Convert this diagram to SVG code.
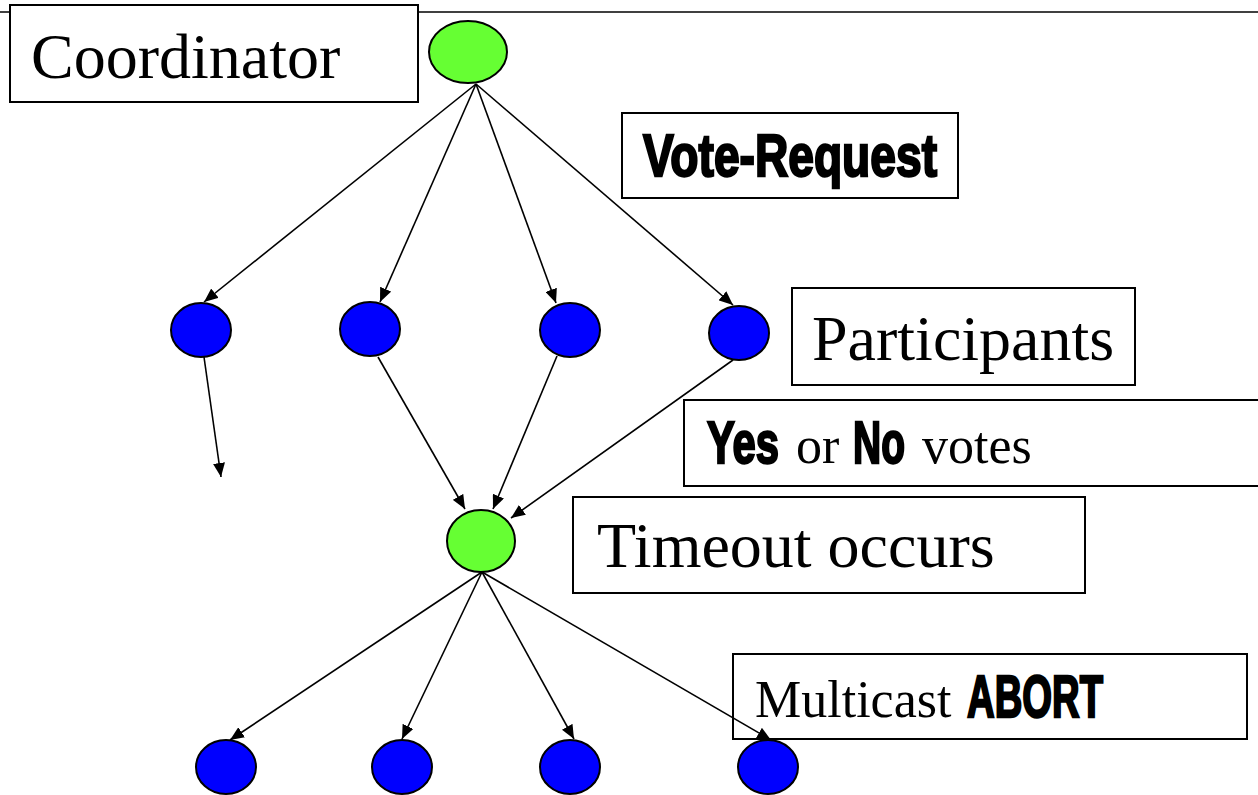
<svg xmlns="http://www.w3.org/2000/svg" width="1258" height="795" viewBox="0 0 1258 795">
  <style>
    .box { fill: #ffffff; stroke: #000000; stroke-width: 2; }
    .green { fill: #66ff33; stroke: #000000; stroke-width: 2; }
    .blue { fill: #0000ff; stroke: #000000; stroke-width: 2; }
    .edge { stroke: #000000; stroke-width: 1.6; fill: none; marker-end: url(#arrow); }
    .serif { font-family: "Liberation Serif", "Times New Roman", serif; fill: #000000; }
    /* heavy condensed face: narrow bold, stretched upward and thickened */
    .heavy { font-family: "Liberation Sans Narrow", "Liberation Sans", Arial, sans-serif; font-weight: bold; font-size: 50px; fill: #000000; stroke: #000000; stroke-width: 2; stroke-linejoin: miter; }
  </style>
  <defs>
    <marker id="arrow" viewBox="0 0 14 12" refX="14" refY="6" markerWidth="14" markerHeight="12" markerUnits="userSpaceOnUse" orient="auto">
      <path d="M0,0 L14,6 L0,12 Z" fill="#000000"/>
    </marker>
  </defs>
  <rect width="1258" height="795" fill="#ffffff"/>

  <!-- header rule -->
  <line x1="0" y1="12" x2="1258" y2="12" stroke="#000000" stroke-width="1.5"/>

  <!-- labels -->
  <g id="coordinator-label">
    <rect class="box" x="10" y="5" width="408" height="97"/>
    <text class="serif" x="31" y="78" font-size="64">Coordinator</text>
  </g>
  <g id="vote-request">
    <rect class="box" x="622" y="113" width="336" height="85"/>
    <text class="heavy" transform="translate(643,176) scale(1,1.2)" x="0" y="0" textLength="294" lengthAdjust="spacingAndGlyphs">Vote-Request</text>
  </g>
  <g id="participants-label">
    <rect class="box" x="792" y="288" width="343" height="97"/>
    <text class="serif" x="812" y="360" font-size="64">Participants</text>
  </g>
  <g id="votes-label">
    <rect class="box" x="684" y="400" width="590" height="86"/>
    <text class="heavy" transform="translate(707,463) scale(1,1.2)" x="0" y="0" textLength="72" lengthAdjust="spacingAndGlyphs">Yes</text>
    <text class="serif" x="796" y="463" font-size="52">or</text>
    <text class="heavy" transform="translate(853,463) scale(1,1.2)" x="0" y="0" textLength="52" lengthAdjust="spacingAndGlyphs">No</text>
    <text class="serif" x="922" y="463" font-size="52">votes</text>
  </g>
  <g id="timeout-label">
    <rect class="box" x="573" y="497" width="512" height="96"/>
    <text class="serif" x="597" y="567" font-size="64">Timeout occurs</text>
  </g>
  <g id="abort-label">
    <rect class="box" x="733" y="654" width="514" height="85"/>
    <text class="serif" x="755" y="717" font-size="52">Multicast</text>
    <text class="heavy" transform="translate(967,717) scale(1,1.2)" x="0" y="0" textLength="136" lengthAdjust="spacingAndGlyphs">ABORT</text>
  </g>

  <!-- connectors -->
  <g id="connectors">
    <line class="edge" x1="476" y1="84" x2="204" y2="302"/>
    <line class="edge" x1="476" y1="84" x2="380" y2="302"/>
    <line class="edge" x1="476" y1="84" x2="556" y2="303"/>
    <line class="edge" x1="476" y1="84" x2="733" y2="305"/>
    <line class="edge" x1="204" y1="357" x2="221" y2="477"/>
    <line class="edge" x1="378" y1="357" x2="465" y2="509"/>
    <line class="edge" x1="557" y1="356" x2="493" y2="509"/>
    <line class="edge" x1="733" y1="360" x2="511" y2="518"/>
    <line class="edge" x1="482" y1="572" x2="230" y2="740"/>
    <line class="edge" x1="482" y1="572" x2="402" y2="739"/>
    <line class="edge" x1="482" y1="572" x2="574" y2="739"/>
    <line class="edge" x1="482" y1="572" x2="771" y2="740"/>
  </g>

  <!-- coordinator -->
  <g id="coordinator">
    <ellipse class="green" cx="468" cy="52" rx="39" ry="31"/>
  </g>

  <!-- participants -->
  <g id="participant-1"><ellipse class="blue" cx="201" cy="330" rx="30" ry="27"/></g>
  <g id="participant-2"><ellipse class="blue" cx="370" cy="329" rx="30" ry="27"/></g>
  <g id="participant-3"><ellipse class="blue" cx="570" cy="330" rx="30" ry="27"/></g>
  <g id="participant-4"><ellipse class="blue" cx="739" cy="333" rx="30" ry="27"/></g>

  <!-- timeout -->
  <g id="timeout">
    <ellipse class="green" cx="481" cy="541" rx="34" ry="31"/>
  </g>

  <!-- abort recipients -->
  <g id="recipient-1"><ellipse class="blue" cx="226" cy="767" rx="30" ry="27"/></g>
  <g id="recipient-2"><ellipse class="blue" cx="402" cy="767" rx="30" ry="27"/></g>
  <g id="recipient-3"><ellipse class="blue" cx="570" cy="767" rx="30" ry="27"/></g>
  <g id="recipient-4"><ellipse class="blue" cx="768" cy="767" rx="30" ry="27"/></g>
</svg>
